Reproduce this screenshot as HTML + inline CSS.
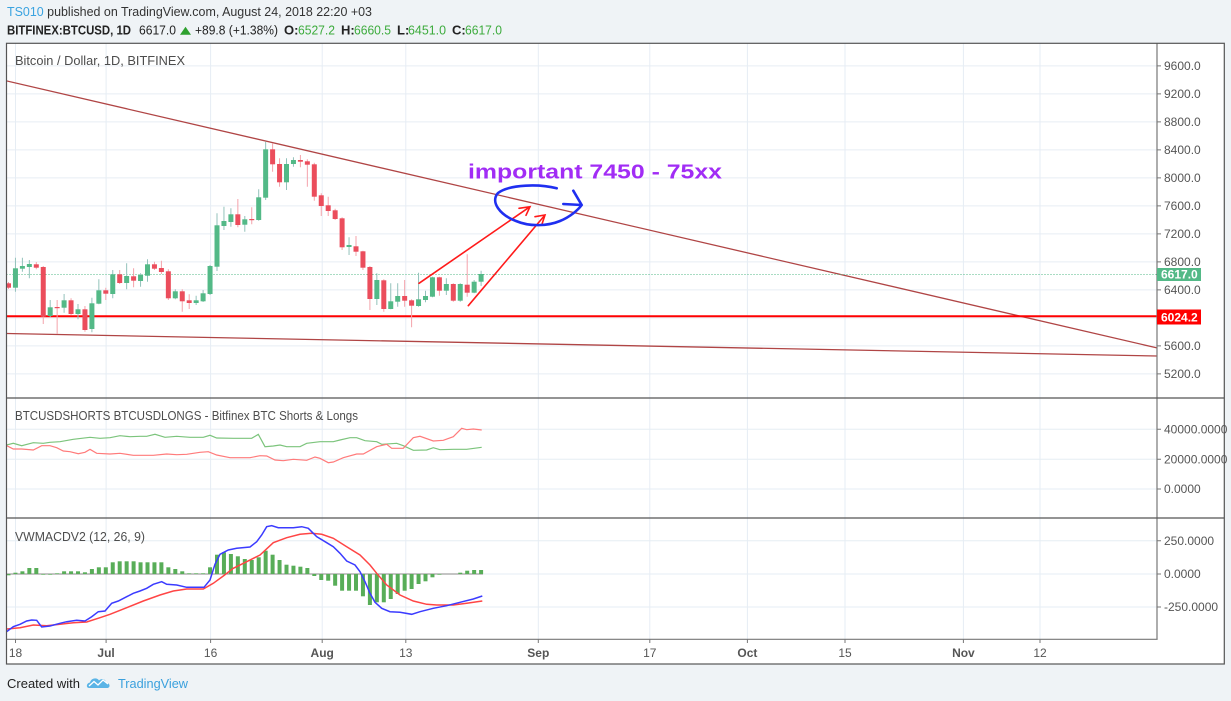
<!DOCTYPE html>
<html><head><meta charset="utf-8"><style>
html,body{margin:0;padding:0;background:#eff3f6;}
svg{display:block;font-family:"Liberation Sans",sans-serif;}
</style></head><body>
<svg width="1231" height="701" viewBox="0 0 1231 701" xmlns="http://www.w3.org/2000/svg">
<defs><clipPath id="pc"><rect x="7" y="43" width="1150" height="596"/></clipPath></defs>
<rect x="0" y="0" width="1231" height="701" fill="#eff3f6"/>
<!-- header -->
<text x="7" y="16" font-size="13" fill="#333" textLength="365" lengthAdjust="spacingAndGlyphs"><tspan fill="#3aa3e0">TS010</tspan> published on TradingView.com, August 24, 2018 22:20 +03</text>
<g font-size="13" fill="#222">
<text x="7" y="34.5" font-weight="bold" textLength="124" lengthAdjust="spacingAndGlyphs">BITFINEX:BTCUSD, 1D</text>
<text x="139" y="34.5" textLength="37" lengthAdjust="spacingAndGlyphs">6617.0</text>
<polygon points="180,34.7 185.5,26.7 191,34.7" fill="#2ea02e"/>
<text x="195" y="34.5" textLength="83" lengthAdjust="spacingAndGlyphs">+89.8 (+1.38%)</text>
<text x="284" y="34.5" font-weight="bold">O:</text><text x="298" y="34.5" fill="#3cab3c" textLength="37" lengthAdjust="spacingAndGlyphs">6527.2</text>
<text x="341" y="34.5" font-weight="bold">H:</text><text x="354" y="34.5" fill="#3cab3c" textLength="37" lengthAdjust="spacingAndGlyphs">6660.5</text>
<text x="397" y="34.5" font-weight="bold">L:</text><text x="408" y="34.5" fill="#3cab3c" textLength="38" lengthAdjust="spacingAndGlyphs">6451.0</text>
<text x="452" y="34.5" font-weight="bold">C:</text><text x="465" y="34.5" fill="#3cab3c" textLength="37" lengthAdjust="spacingAndGlyphs">6617.0</text>
</g>
<!-- chart frame -->
<rect x="6.5" y="43.3" width="1217.8" height="620.7" fill="#ffffff"/>
<!-- grid -->
<g stroke="#e6edf4" stroke-width="1">
<line x1="7" x2="1157" y1="65.9" y2="65.9"/><line x1="7" x2="1157" y1="93.9" y2="93.9"/>
<line x1="7" x2="1157" y1="121.9" y2="121.9"/><line x1="7" x2="1157" y1="149.9" y2="149.9"/>
<line x1="7" x2="1157" y1="177.9" y2="177.9"/><line x1="7" x2="1157" y1="205.9" y2="205.9"/>
<line x1="7" x2="1157" y1="233.9" y2="233.9"/><line x1="7" x2="1157" y1="261.9" y2="261.9"/>
<line x1="7" x2="1157" y1="289.9" y2="289.9"/><line x1="7" x2="1157" y1="317.9" y2="317.9"/>
<line x1="7" x2="1157" y1="345.9" y2="345.9"/><line x1="7" x2="1157" y1="373.9" y2="373.9"/>
<line x1="7" x2="1157" y1="429.3" y2="429.3"/><line x1="7" x2="1157" y1="459.3" y2="459.3"/><line x1="7" x2="1157" y1="489" y2="489"/>
<line x1="7" x2="1157" y1="540.7" y2="540.7"/><line x1="7" x2="1157" y1="574" y2="574"/><line x1="7" x2="1157" y1="607" y2="607"/>
<line y1="43" y2="639" x1="15.5" x2="15.5"/><line y1="43" y2="639" x1="106.1" x2="106.1"/>
<line y1="43" y2="639" x1="210.6" x2="210.6"/><line y1="43" y2="639" x1="322.2" x2="322.2"/>
<line y1="43" y2="639" x1="405.8" x2="405.8"/><line y1="43" y2="639" x1="538.3" x2="538.3"/>
<line y1="43" y2="639" x1="649.8" x2="649.8"/><line y1="43" y2="639" x1="747.4" x2="747.4"/>
<line y1="43" y2="639" x1="845" x2="845"/><line y1="43" y2="639" x1="963.4" x2="963.4"/>
<line y1="43" y2="639" x1="1040" x2="1040"/>
</g>
<g clip-path="url(#pc)">
<!-- trend lines -->
<line x1="6.5" y1="80.9" x2="1157" y2="347.9" stroke="#b04545" stroke-width="1.3"/>
<line x1="6.5" y1="333.5" x2="1157" y2="356" stroke="#b04545" stroke-width="1.3"/>
<line x1="6.5" y1="274.5" x2="1157" y2="274.5" stroke="#53b987" stroke-width="1" stroke-dasharray="1,2"/>
<line x1="6.5" y1="316.3" x2="1157" y2="316.3" stroke="#ff0000" stroke-width="2"/>
<!-- wicks -->
<path stroke="#93c2bb" stroke-width="1" fill="none" d="M15.45 257.7V291.7M22.4 257.7V271.7M29.35 260V278.3M50.2 300V317.3M64.1 294V312.7M78 304V319.3M91.9 297.7V332.3M98.85 279.3V304.3M112.75 270V298.3M126.65 263.3V289.3M140.55 273.3V286.7M147.5 259.3V281.7M175.3 289.3V299.3M196.15 295.7V305M203.1 290V302M210.05 265V295M217 213.3V271M223.95 206.7V230M230.9 208.3V226.7M244.8 216V231.7M258.7 189.3V220.7M265.65 141.7V200M286.5 158.3V190M293.45 157.3V166.7M349.05 237.3V255M376.85 273.3V305M390.75 283.3V309.3M397.7 283.3V306.7M418.55 272.7V306.7M425.5 290.7V302.3M432.45 276.7V297.3M446.35 278.3V295M460.25 283.3V301.7M474.15 280V293.3M481.1 270.7V286"/>
<path stroke="#f4a3ab" stroke-width="1" fill="none" d="M8.5 282V289M36.3 262V269.3M43.25 266V324M57.15 300V334M71.05 298.3V315M84.95 306V331.7M105.8 287.7V300M119.7 270V284M133.6 268.3V287.3M154.45 261.7V270M161.4 260.7V274M168.35 269.3V300M182.25 289.3V311.7M189.2 294.3V309M237.85 199V227.3M251.75 207.3V224.3M272.6 143.3V171.7M279.55 158.3V186.7M300.4 155V167.3M307.35 159.3V186.7M314.3 162.7V200.7M321.25 193.3V216M328.2 196.7V216M335.15 208.7V220M342.1 217.3V250M356 236V256M362.95 250.7V270M369.9 266V310M383.8 279.3V311.7M404.65 280V306.7M411.6 299.3V327.3M439.4 276.7V295.7M453.3 283.3V301.7M467.2 254.3V296.7"/>
<!-- up bodies -->
<g fill="#53b987">
<rect x="12.95" y="268.3" width="5" height="19.4"/><rect x="19.9" y="266" width="5" height="2.7"/><rect x="26.85" y="264" width="5" height="3"/>
<rect x="47.7" y="307.3" width="5" height="8.7"/><rect x="61.6" y="300.3" width="5" height="7.4"/><rect x="75.5" y="309.3" width="5" height="4.7"/>
<rect x="89.4" y="303.3" width="5" height="25.7"/><rect x="96.35" y="290.3" width="5" height="13.4"/><rect x="110.25" y="274.3" width="5" height="19.7"/>
<rect x="124.15" y="276" width="5" height="7"/><rect x="138.05" y="275" width="5" height="6"/><rect x="145" y="264.3" width="5" height="11.4"/>
<rect x="172.8" y="291.3" width="5" height="7"/><rect x="193.65" y="300.3" width="5" height="2.7"/><rect x="200.6" y="293.3" width="5" height="8"/>
<rect x="207.55" y="266" width="5" height="28"/><rect x="214.5" y="225.3" width="5" height="41.4"/><rect x="221.45" y="221" width="5" height="5"/>
<rect x="228.4" y="214.3" width="5" height="7.7"/><rect x="242.3" y="219.3" width="5" height="5.4"/><rect x="256.2" y="197.3" width="5" height="22.7"/>
<rect x="263.15" y="149.3" width="5" height="48.4"/><rect x="284" y="164" width="5" height="18.3"/><rect x="290.95" y="160" width="5" height="4"/>
<rect x="346.55" y="245" width="5" height="2"/><rect x="374.35" y="280" width="5" height="19"/><rect x="388.25" y="301.3" width="5" height="7.7"/>
<rect x="395.2" y="296" width="5" height="5.7"/><rect x="416.05" y="299.3" width="5" height="6.7"/><rect x="423" y="296" width="5" height="4"/>
<rect x="429.95" y="277.3" width="5" height="19.4"/><rect x="443.85" y="284" width="5" height="6.7"/><rect x="457.75" y="284" width="5" height="16.7"/>
<rect x="471.65" y="281.7" width="5" height="11"/><rect x="478.6" y="274" width="5" height="7.7"/>
</g>
<!-- down bodies -->
<g fill="#eb4d5c">
<rect x="6" y="283.3" width="5" height="4.4"/><rect x="33.8" y="264.3" width="5" height="3.4"/><rect x="40.75" y="267" width="5" height="49.7"/>
<rect x="54.65" y="307" width="5" height="1.2"/><rect x="68.55" y="300.3" width="5" height="13.7"/><rect x="82.45" y="309.3" width="5" height="20.7"/>
<rect x="103.3" y="290.3" width="5" height="3.4"/><rect x="117.2" y="274.3" width="5" height="8.7"/><rect x="131.1" y="276.3" width="5" height="4.4"/>
<rect x="151.95" y="264.3" width="5" height="4.4"/><rect x="158.9" y="268" width="5" height="4"/><rect x="165.85" y="271.3" width="5" height="27"/>
<rect x="179.75" y="291.3" width="5" height="10"/><rect x="186.7" y="300.3" width="5" height="2.7"/><rect x="235.35" y="214.3" width="5" height="10.7"/>
<rect x="249.25" y="219" width="5" height="1.2"/><rect x="270.1" y="149.3" width="5" height="15"/><rect x="277.05" y="164" width="5" height="18.3"/>
<rect x="297.9" y="160" width="5" height="1.7"/><rect x="304.85" y="161.3" width="5" height="3.4"/><rect x="311.8" y="164.3" width="5" height="32.4"/>
<rect x="318.75" y="195.3" width="5" height="10.7"/><rect x="325.7" y="205.3" width="5" height="5.7"/><rect x="332.65" y="210.3" width="5" height="8.7"/>
<rect x="339.6" y="218.3" width="5" height="29"/><rect x="353.5" y="246.3" width="5" height="5.4"/><rect x="360.45" y="251.3" width="5" height="16.4"/>
<rect x="367.4" y="267" width="5" height="32"/><rect x="381.3" y="280.3" width="5" height="28.7"/><rect x="402.15" y="296" width="5" height="4.7"/>
<rect x="409.1" y="300.3" width="5" height="5.4"/><rect x="436.9" y="277.3" width="5" height="13.4"/><rect x="450.8" y="284" width="5" height="16.7"/>
<rect x="464.7" y="284.7" width="5" height="8"/>
</g>
<!-- annotations -->
<g stroke="#ff1a1a" stroke-width="1.6" fill="none" stroke-linecap="round">
<path d="M419,283.3 L530,206.7 M519,208.3 L530,206.7 L526,215.3"/>
<path d="M468.3,305.7 L545,215 M535,216.7 L545,215 L541.7,225"/>
</g>
<path d="M556.7,188.3 C540,184 510,184 498,193 C490,202 500,215 516,221 C530,227 548,226 560,221 C570,217 578,210 581.7,205 M573.3,190.7 L581.7,205 L563.3,204" stroke="#1f2ff0" stroke-width="2.6" fill="none" stroke-linecap="round" stroke-linejoin="round"/>
<text x="468" y="178.5" font-size="20" font-weight="bold" fill="#a12cf5" textLength="254" lengthAdjust="spacingAndGlyphs">important 7450 - 75xx</text>
<!-- shorts/longs -->
<polyline fill="none" stroke="#7cc47c" stroke-width="1.2" points="6.7,445 13.3,443.3 21.7,445.7 33.3,442.7 43.3,443.3 50,442.3 60,441.7 73.3,439.3 90,437.3 100,438.3 110,437.7 120,435.7 130,436.7 140,436.3 146.7,436.3 155,434.3 165,437.3 176.7,436.3 190,437.3 203.3,437.3 210,435.3 216.7,438 233.3,438.3 251.7,438.3 258.3,434.3 265,446.7 273.3,446 280,445 286.7,446.7 300,446.7 306.7,443.3 320,441.7 333.3,441.7 340,440 350,437.7 356.7,437.7 365,440.7 376.7,441.7 381.7,444.3 396.7,443.3 403.3,445.7 413.3,450.3 426.7,450 433.3,447.7 440,449.7 453.3,449.3 466.7,449.3 481.7,447.3"/>
<polyline fill="none" stroke="#ff7b7b" stroke-width="1.2" points="6.7,445.7 13.3,449 21.7,449 33.3,450 41.7,445.7 50,445.7 56.7,447.7 63.3,451 70,451.7 78.3,453.7 85,452.3 90,449.3 96.7,453.3 110,454 120,453.3 133.3,455.3 153.3,455.3 166.7,454 176.7,454.7 186.7,454.3 200,452.3 208.3,451.7 216.7,455 230,457.7 250,457.7 260,455.7 266.7,456 275,460 283.3,460.7 293.3,459.3 306.7,460.3 315,457 320,458.3 328.3,462.7 333.3,462 343.3,457.7 356.7,454 363.3,454 376.7,446.7 386.7,444.3 391.7,448.3 403.3,448.3 413.3,437.7 420,436.3 433.3,441 443.3,440.3 453.3,436.7 461.7,428.3 466.7,429.7 473.3,429 481.7,430"/>
<!-- MACD histogram -->
<line x1="6.5" y1="574" x2="483" y2="574" stroke="#888" stroke-width="1"/>
<g fill="#58ad58">
<rect x="6.5" y="574" width="4" height="1.3"/><rect x="13.45" y="572.7" width="4" height="1.3"/><rect x="20.4" y="571.3" width="4" height="2.7"/>
<rect x="27.35" y="568" width="4" height="6"/><rect x="34.3" y="568" width="4" height="6"/><rect x="41.25" y="574" width="4" height="0.7"/>
<rect x="48.2" y="574" width="4" height="0.7"/><rect x="55.15" y="573.3" width="4" height="0.7"/><rect x="62.1" y="571.3" width="4" height="2.7"/>
<rect x="69.05" y="571.3" width="4" height="2.7"/><rect x="76" y="571.3" width="4" height="2.7"/><rect x="82.95" y="572.3" width="4" height="1.7"/>
<rect x="89.9" y="569" width="4" height="5"/><rect x="96.85" y="567.3" width="4" height="6.7"/><rect x="103.8" y="567.3" width="4" height="6.7"/>
<rect x="110.75" y="562.3" width="4" height="11.7"/><rect x="117.7" y="561.3" width="4" height="12.7"/><rect x="124.65" y="561.3" width="4" height="12.7"/>
<rect x="131.6" y="561.3" width="4" height="12.7"/><rect x="138.55" y="562.3" width="4" height="11.7"/><rect x="145.5" y="562.3" width="4" height="11.7"/>
<rect x="152.45" y="562.3" width="4" height="11.7"/><rect x="159.4" y="562.3" width="4" height="11.7"/><rect x="166.35" y="567.3" width="4" height="6.7"/>
<rect x="173.3" y="569" width="4" height="5"/><rect x="180.25" y="571.3" width="4" height="2.7"/><rect x="187.2" y="573.3" width="4" height="0.7"/>
<rect x="194.15" y="573.3" width="4" height="0.7"/><rect x="201.1" y="573.3" width="4" height="0.7"/><rect x="208.05" y="567.3" width="4" height="6.7"/>
<rect x="215" y="554.7" width="4" height="19.3"/><rect x="221.95" y="552.3" width="4" height="21.7"/><rect x="228.9" y="554" width="4" height="20"/>
<rect x="235.85" y="556.3" width="4" height="17.7"/><rect x="242.8" y="559" width="4" height="15"/><rect x="249.75" y="560" width="4" height="14"/>
<rect x="256.7" y="557.3" width="4" height="16.7"/><rect x="263.65" y="550.7" width="4" height="23.3"/><rect x="270.6" y="554.7" width="4" height="19.3"/>
<rect x="277.55" y="560" width="4" height="14"/><rect x="284.5" y="564.7" width="4" height="9.3"/><rect x="291.45" y="565.7" width="4" height="8.3"/>
<rect x="298.4" y="566.7" width="4" height="7.3"/><rect x="305.35" y="568" width="4" height="6"/><rect x="312.3" y="574" width="4" height="2"/>
<rect x="319.25" y="574" width="4" height="6"/><rect x="326.2" y="574" width="4" height="6.7"/><rect x="333.15" y="574" width="4" height="11.7"/>
<rect x="340.1" y="574" width="4" height="16.7"/><rect x="347.05" y="574" width="4" height="16.7"/><rect x="354" y="574" width="4" height="16.7"/>
<rect x="360.95" y="574" width="4" height="22.3"/><rect x="367.9" y="574" width="4" height="31"/><rect x="374.85" y="574" width="4" height="28.3"/>
<rect x="381.8" y="574" width="4" height="28.3"/><rect x="388.75" y="574" width="4" height="25"/><rect x="395.7" y="574" width="4" height="20"/>
<rect x="402.65" y="574" width="4" height="16.7"/><rect x="409.6" y="574" width="4" height="15"/><rect x="416.55" y="574" width="4" height="10"/>
<rect x="423.5" y="574" width="4" height="7.3"/><rect x="430.45" y="574" width="4" height="3.3"/><rect x="437.4" y="574" width="4" height="0.7"/>
<rect x="458.25" y="572.7" width="4" height="1.3"/><rect x="465.2" y="570.7" width="4" height="3.3"/><rect x="472.15" y="570" width="4" height="4"/>
<rect x="479.1" y="570" width="4" height="4"/>
</g>
<polyline fill="none" stroke="#ff4545" stroke-width="1.5" points="6.7,629 20,627.7 33.3,625 46.7,625.7 60,624.3 73.3,622.7 86.7,622 100,617.7 110,614.3 126.7,607.7 143.3,601 160,595 173.3,591 186.7,589 203.3,589 213.3,583.3 223.3,576 233.3,568.3 246.7,561.7 260,555 273.3,542.7 286.7,537.7 300,534.3 311.7,533.3 321.7,534.3 333.3,538.3 346.7,546.7 360,555 370,565 376.7,573.3 386.7,585 400,595 413.3,601 426.7,604.3 436.7,605 453.3,605 466.7,603.3 482.3,601"/>
<polyline fill="none" stroke="#3b3bff" stroke-width="1.5" points="6.7,631.7 13.3,626.7 20,624.3 26.7,621 31.7,620 36.7,620.3 41.7,627 50,626 60,623.3 66.7,621.7 76.7,620.3 85,621 91.7,616.7 98.3,611.7 105,611 111.7,603.3 118.3,601 126.7,596.7 133.3,593.3 140,591 146.7,588.3 153.3,584.3 161.7,581.7 166.7,584.3 176.7,585 186.7,587.3 204,587.3 210,580 215,564.3 220,554.3 228.3,550 236.7,548.3 250,547 256.7,541.7 261.7,535 266.7,526.7 271.7,525.7 278.3,527.7 293.3,527.7 301.7,526.7 308.3,528.3 316.7,536.7 326.7,542.7 333.3,546.7 340,553.3 346.7,561 355,565 360,571.7 365,581.7 370,593.3 375,602.3 381.7,608.3 390,611.7 400,612.3 411.7,614.3 420,611.7 433.3,608.3 446.7,605.7 460,602.3 473.3,599 482.3,596"/>
</g>
<!-- pane labels -->
<g font-size="13" fill="#4d4d4d">
<text x="15" y="65" textLength="170" lengthAdjust="spacingAndGlyphs">Bitcoin / Dollar, 1D, BITFINEX</text>
<text x="15" y="420" textLength="343" lengthAdjust="spacingAndGlyphs">BTCUSDSHORTS BTCUSDLONGS - Bitfinex BTC Shorts &amp; Longs</text>
<text x="15" y="541" textLength="130" lengthAdjust="spacingAndGlyphs">VWMACDV2 (12, 26, 9)</text>
</g>
<!-- frame lines -->
<g fill="none">
<line x1="1157" y1="43" x2="1157" y2="639.5" stroke="#777" stroke-width="1.2"/>
<line x1="6.5" y1="639.3" x2="1157.6" y2="639.3" stroke="#777" stroke-width="1.2"/>
<line x1="6.5" y1="398" x2="1224" y2="398" stroke="#555" stroke-width="1.2"/>
<line x1="6.5" y1="518" x2="1224" y2="518" stroke="#555" stroke-width="1.2"/>
<rect x="6.5" y="43.3" width="1217.8" height="620.7" stroke="#555" stroke-width="1.2"/>
</g>
<!-- right axis ticks -->
<g stroke="#777" stroke-width="1">
<path d="M1157 65.9h4M1157 93.9h4M1157 121.9h4M1157 149.9h4M1157 177.9h4M1157 205.9h4M1157 233.9h4M1157 261.9h4M1157 289.9h4M1157 345.9h4M1157 373.9h4M1157 429.3h4M1157 459.3h4M1157 489h4M1157 540.7h4M1157 574h4M1157 607h4"/>
<path d="M15.5 639v4M106.1 639v4M210.6 639v4M322.2 639v4M405.8 639v4M538.3 639v4M649.8 639v4M747.4 639v4M845 639v4M963.4 639v4M1040 639v4"/>
</g>
<g font-size="12" fill="#555">
<text x="1164" y="70">9600.0</text><text x="1164" y="98">9200.0</text><text x="1164" y="126">8800.0</text>
<text x="1164" y="154">8400.0</text><text x="1164" y="182">8000.0</text><text x="1164" y="210">7600.0</text>
<text x="1164" y="238">7200.0</text><text x="1164" y="266">6800.0</text><text x="1164" y="294">6400.0</text>
<text x="1164" y="350">5600.0</text><text x="1164" y="378">5200.0</text>
<text x="1164" y="433.5">40000.0000</text><text x="1164" y="463.5">20000.0000</text><text x="1164" y="493">0.0000</text>
<text x="1164" y="545">250.0000</text><text x="1164" y="578">0.0000</text><text x="1164" y="611">-250.0000</text>
</g>
<rect x="1157" y="268" width="44" height="13" fill="#53b987"/>
<text x="1161" y="278.7" font-size="12" font-weight="bold" fill="#fff">6617.0</text>
<rect x="1157" y="309.5" width="44" height="15" fill="#ff0000"/>
<text x="1161" y="321.3" font-size="12" font-weight="bold" fill="#fff">6024.2</text>
<!-- time axis labels -->
<g font-size="12" fill="#555" text-anchor="middle">
<text x="15.5" y="657">18</text><text x="106.1" y="657" font-weight="bold">Jul</text>
<text x="210.6" y="657">16</text><text x="322.2" y="657" font-weight="bold">Aug</text>
<text x="405.8" y="657">13</text><text x="538.3" y="657" font-weight="bold">Sep</text>
<text x="649.8" y="657">17</text><text x="747.4" y="657" font-weight="bold">Oct</text>
<text x="845" y="657">15</text><text x="963.4" y="657" font-weight="bold">Nov</text>
<text x="1040" y="657">12</text>
</g>
<!-- footer -->
<text x="7" y="688" font-size="13" fill="#222" textLength="73" lengthAdjust="spacingAndGlyphs">Created with</text>
<path d="M89,688 C86,688 86,683 90,682.5 C91,678 97,677 99,680.5 C101,678 106,679 106,682.5 C110,682.5 111,688 107,688 Z" fill="#5ab4e6"/>
<polyline points="89,686 94,681.5 98,685 103,680 108,684" fill="none" stroke="#fff" stroke-width="1.3"/>
<text x="118" y="688" font-size="13" fill="#3aa0dd" textLength="70" lengthAdjust="spacingAndGlyphs">TradingView</text>
</svg>
</body></html>
